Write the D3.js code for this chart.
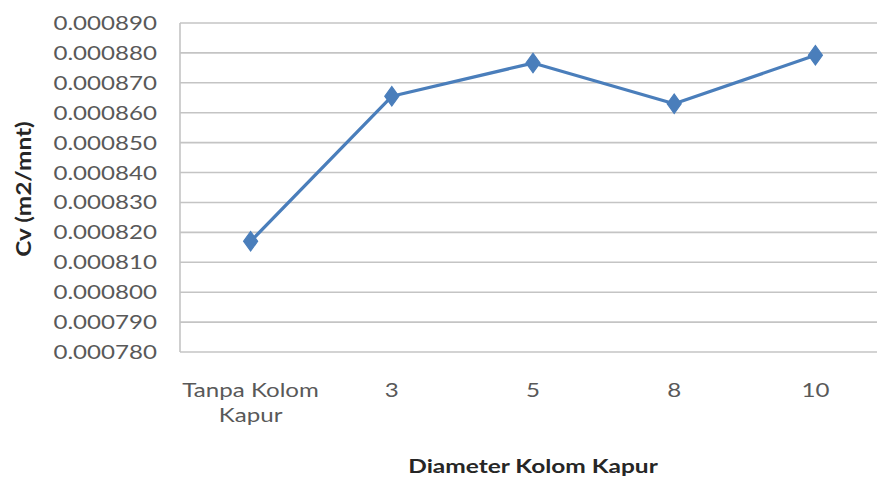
<!DOCTYPE html>
<html>
<head>
<meta charset="utf-8">
<script src="https://cdn.jsdelivr.net/npm/d3@7"></script>
<style>
  html, body { margin: 0; padding: 0; background: #fff; }
  svg { display: block; }
</style>
</head>
<body>
<svg id="chart" width="877" height="477"></svg>
<script>
// Consolidation coefficient per lime column diameter
const categories = ["Tanpa Kolom Kapur", "3", "5", "8", "10"];
const cvValues = [0.000817, 0.0008655, 0.0008766, 0.000863, 0.0008792];
const yTicks = [0.00078, 0.00079, 0.0008, 0.00081, 0.00082, 0.00083, 0.00084,
                0.00085, 0.00086, 0.00087, 0.00088, 0.00089];
const xTitle = "Diameter Kolom Kapur";
const yTitle = "Cv (m2/mnt)";

const plot = { left: 180, right: 886, top: 23, bottom: 352 };
const FONT = "Lato, 'Open Sans', sans-serif";
const SX = 1.27; // horizontal stretch of the text glyphs

const svg = d3.select("#chart");

const x = d3.scaleBand().domain(categories).range([plot.left, plot.right]).padding(0);
const y = d3.scaleLinear().domain([0.00078, 0.00089]).range([plot.bottom, plot.top]);

// Horizontal gridlines
svg.append("g").selectAll("line").data(yTicks).join("line")
  .attr("x1", plot.left).attr("x2", plot.right)
  .attr("y1", d => y(d)).attr("y2", d => y(d))
  .attr("stroke", "#c4c4c4").attr("stroke-width", 1.6);

// Left axis line
svg.append("line")
  .attr("x1", plot.left).attr("x2", plot.left)
  .attr("y1", plot.top).attr("y2", plot.bottom)
  .attr("stroke", "#c4c4c4").attr("stroke-width", 1.6);

// Stretched text helper
function stretchedText(g, tx, ty, str, opts) {
  return g.append("text")
    .attr("transform", `translate(${tx},${ty}) rotate(${opts.rot || 0}) scale(${opts.sx || SX},1)`)
    .attr("text-anchor", opts.anchor || "middle")
    .attr("dominant-baseline", "central")
    .attr("font-family", FONT)
    .attr("font-size", opts.size)
    .attr("font-weight", opts.weight || "normal")
    .attr("fill", opts.fill || "#595959")
    .text(str);
}

// Y tick labels
const yLab = svg.append("g");
yTicks.forEach(t => {
  stretchedText(yLab, 157, y(t), d3.format(".6f")(t), { anchor: "end", size: 19 });
});

// X category labels (wrapped onto two lines where long)
const xLab = svg.append("g");
categories.forEach(c => {
  const words = c.split(" ");
  const lines = words.length > 2 ? [words.slice(0, 2).join(" "), words.slice(2).join(" ")] : [c];
  lines.forEach((ln, i) => {
    stretchedText(xLab, x(c) + x.bandwidth() / 2, 390 + i * 25, ln, { size: 19 });
  });
});

// Axis titles
stretchedText(svg, 533, 466, xTitle, { size: 18, sx: 1.36, weight: "bold", fill: "#262626" });
stretchedText(svg, 23, 189, yTitle, { size: 20, sx: 1.22, rot: -90, weight: "bold", fill: "#262626" });

// Series line
const cx = c => x(c) + x.bandwidth() / 2;
const line = d3.line().x((d, i) => cx(categories[i])).y(d => y(d));
svg.append("path")
  .datum(cvValues)
  .attr("d", line)
  .attr("fill", "none")
  .attr("stroke", "#4a7ebb")
  .attr("stroke-width", 3.2)
  .attr("stroke-linejoin", "round");

// Diamond markers
const diamond = d3.symbol().type(d3.symbolDiamond).size(110);
svg.append("g").selectAll("path").data(cvValues).join("path")
  .attr("transform", (d, i) => `translate(${cx(categories[i])},${y(d)}) scale(1.25,1)`)
  .attr("d", diamond)
  .attr("fill", "#4a7ebb")
  .attr("stroke", "#4a7ebb")
  .attr("stroke-width", 1);
</script>
</body>
</html>
